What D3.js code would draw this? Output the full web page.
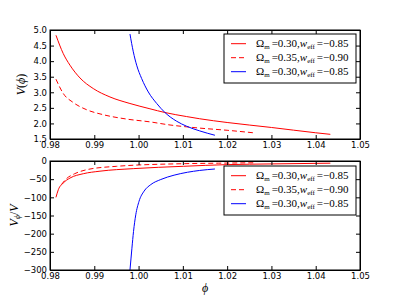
<!DOCTYPE html>
<meta charset="utf-8">
<title>V(phi)</title>
<style type="text/css">
  body { margin: 0; background: #fff; }
  .tick text { font-family: "DejaVu Sans", sans-serif; font-size: 8.5px; fill: #000; }
  .math { font-family: "Liberation Serif", "DejaVu Serif", serif; fill: #000; }
</style>
<body>
<script src="https://cdn.jsdelivr.net/npm/d3@7"></script>
<script>

// data: phi values and curve values
var redSolidPhi = [0.98135, 0.9830, 0.98451, 0.98677, 0.98977, 0.99354, 0.99805, 1.00257, 1.00596, 1.01085, 1.0138, 1.0200, 1.0300, 1.0400, 1.0433];
var redSolidV   = [4.83, 4.24, 3.87, 3.46, 3.12, 2.85, 2.64, 2.47, 2.35, 2.22, 2.15, 2.03, 1.87, 1.70, 1.65];

var redDashPhi = [0.98135, 0.9830, 0.98526, 0.98827, 0.99203, 0.9973, 1.00257, 1.0071, 1.01085, 1.0138, 1.0200, 1.0259];
var redDashV   = [3.42, 2.96, 2.67, 2.44, 2.28, 2.14, 2.05, 1.95, 1.89, 1.85, 1.78, 1.70];

var bluePhi = [0.99806, 0.99881, 0.99957, 1.0007, 1.0022, 1.0041, 1.00596, 1.0086, 1.01085, 1.0138, 1.01724];
var blueV   = [4.87, 4.30, 3.87, 3.44, 3.01, 2.64, 2.35, 2.07, 1.91, 1.76, 1.62];

// V_phi / V
var redSolidDPhi = [0.98135, 0.98188, 0.9830, 0.98451, 0.98752, 0.99128, 0.99881, 1.0101, 1.0200, 1.0300, 1.0433];
var redSolidD    = [-100, -79, -60.5, -47, -35, -28, -21, -14.6, -10, -8, -6];

var redDashDPhi = [0.98256, 0.98369, 0.98557, 0.98827, 0.99504, 1.0101, 1.0180, 1.0259];
var redDashD    = [-65, -49, -35, -24, -14.6, -7.4, -6, -5];

var blueDPhi = [0.99806, 0.9985, 0.99886, 0.99937, 1.0001, 1.00124, 1.00275, 1.00501, 1.00802, 1.01103, 1.0138, 1.01724];
var blueD    = [-300, -240, -194, -148, -111, -83, -65, -51, -39, -31, -26, -22];

var xTicks = [0.98, 0.99, 1.00, 1.01, 1.02, 1.03, 1.04, 1.05];
var yTopTicks = [1.5, 2.0, 2.5, 3.0, 3.5, 4.0, 4.5, 5.0];
var yBotTicks = [0, -50, -100, -150, -200, -250, -300];

var legendLabels = [
  {om: "0.30", w: "\u22120.85"},
  {om: "0.35", w: "\u22120.90"},
  {om: "0.30", w: "\u22120.85"}
];
var seriesStyle = [
  {color: "#ff0000", dash: null},
  {color: "#ff0000", dash: "5,3"},
  {color: "#0000ff", dash: null}
];

var W = 400, H = 300;
var left = 50, right = 360;
var panels = [
  {top: 30, bottom: 139},
  {top: 161, bottom: 270}
];

var svg = d3.select("body").append("svg")
  .attr("width", W).attr("height", H);

var x = d3.scaleLinear().domain([0.98, 1.05]).range([left, right]);
var yTop = d3.scaleLinear().domain([1.5, 5.0]).range([panels[0].bottom, panels[0].top]);
var yBot = d3.scaleLinear().domain([-300, 0]).range([panels[1].bottom, panels[1].top]);

function minus(v) { return String(v).replace("-", "\u2212"); }

function drawPanel(p, y, yTicks, yFmt, series) {
  var clipId = "clip" + p.top;
  svg.append("clipPath").attr("id", clipId)
    .append("rect")
    .attr("x", left).attr("y", p.top)
    .attr("width", right - left).attr("height", p.bottom - p.top);

  var g = svg.append("g").attr("clip-path", "url(#" + clipId + ")");
  series.forEach(function(s, i) {
    var pts = d3.zip(s.phi, s.val);
    g.append("path")
      .attr("d", d3.line().curve(d3.curveMonotoneX)
        .x(function(d) { return x(d[0]); })
        .y(function(d) { return y(d[1]); })(pts))
      .attr("fill", "none")
      .attr("stroke", seriesStyle[i].color)
      .attr("stroke-width", 1)
      .attr("stroke-dasharray", seriesStyle[i].dash);
  });

  // axes, ticks pointing inward like matplotlib
  svg.append("g")
    .attr("transform", "translate(0," + p.bottom + ")")
    .call(d3.axisBottom(x).tickValues(xTicks).tickSizeInner(-4).tickSizeOuter(0)
      .tickPadding(3).tickFormat(d3.format(".2f")));
  svg.append("g")
    .attr("transform", "translate(0," + p.top + ")")
    .call(d3.axisTop(x).tickValues(xTicks).tickSizeInner(-4).tickSizeOuter(0).tickFormat(""));
  svg.append("g")
    .attr("transform", "translate(" + left + ",0)")
    .call(d3.axisLeft(y).tickValues(yTicks).tickSizeInner(-4).tickSizeOuter(0)
      .tickPadding(3).tickFormat(yFmt));
  svg.append("g")
    .attr("transform", "translate(" + right + ",0)")
    .call(d3.axisRight(y).tickValues(yTicks).tickSizeInner(-4).tickSizeOuter(0).tickFormat(""));

  svg.selectAll(".domain").attr("stroke", "#000");
  svg.selectAll(".tick line").attr("stroke", "#000");

  svg.append("rect")
    .attr("x", left).attr("y", p.top)
    .attr("width", right - left).attr("height", p.bottom - p.top)
    .attr("fill", "none").attr("stroke", "#000").attr("stroke-width", 1);
}

drawPanel(panels[0], yTop, yTopTicks, d3.format(".1f"), [
  {phi: redSolidPhi, val: redSolidV},
  {phi: redDashPhi, val: redDashV},
  {phi: bluePhi, val: blueV}
]);
drawPanel(panels[1], yBot, yBotTicks, function(d) { return minus(d); }, [
  {phi: redSolidDPhi, val: redSolidD},
  {phi: redDashDPhi, val: redDashD},
  {phi: blueDPhi, val: blueD}
]);

// legends
function drawLegend(bx, by) {
  var lg = svg.append("g").attr("transform", "translate(" + bx + "," + by + ")");
  lg.append("rect")
    .attr("width", 132).attr("height", 49)
    .attr("fill", "#fff").attr("stroke", "#000").attr("stroke-width", 1);
  legendLabels.forEach(function(l, i) {
    var yy = 9.7 + i * 14;
    lg.append("line")
      .attr("x1", 7).attr("x2", 22).attr("y1", yy).attr("y2", yy)
      .attr("stroke", seriesStyle[i].color).attr("stroke-width", 1)
      .attr("stroke-dasharray", seriesStyle[i].dash);
    var t = lg.append("text").attr("class", "math")
      .attr("x", 32).attr("y", yy + 3.5).style("font-size", "11px");
    t.append("tspan").text("\u03a9");
    t.append("tspan").attr("font-size", "7px").attr("dy", 2).text("m");
    t.append("tspan").attr("dy", -2).attr("dx", 2).text("=" + l.om + ",");
    t.append("tspan").attr("font-style", "italic").text("w");
    t.append("tspan").attr("font-size", "7px").attr("dy", 2).text("eff");
    t.append("tspan").attr("dy", -2).attr("dx", 2).text("=" + l.w);
  });
}
drawLegend(224, 34);
drawLegend(224, 166);

// axis labels
var yl1 = svg.append("text").attr("class", "math")
  .attr("transform", "translate(25," + ((panels[0].top + panels[0].bottom) / 2) + ") rotate(-90)")
  .attr("text-anchor", "middle").style("font-size", "12px");
yl1.append("tspan").attr("font-style", "italic").text("V");
yl1.append("tspan").text("(");
yl1.append("tspan").attr("font-style", "italic").text("\u03d5");
yl1.append("tspan").text(")");

var yl2 = svg.append("text").attr("class", "math")
  .attr("transform", "translate(18," + ((panels[1].top + panels[1].bottom) / 2) + ") rotate(-90)")
  .attr("text-anchor", "middle").style("font-size", "12px");
yl2.append("tspan").attr("font-style", "italic").text("V");
yl2.append("tspan").attr("font-style", "italic").attr("font-size", "8px").attr("dy", 2).text("\u03d5");
yl2.append("tspan").attr("dy", -2).text("/");
yl2.append("tspan").attr("font-style", "italic").text("V");

svg.append("text").attr("class", "math")
  .attr("x", (left + right) / 2).attr("y", 292)
  .attr("text-anchor", "middle").style("font-size", "12px").attr("font-style", "italic")
  .attr("fill", "#000")
  .text("\u03d5");

</script>
</body>
